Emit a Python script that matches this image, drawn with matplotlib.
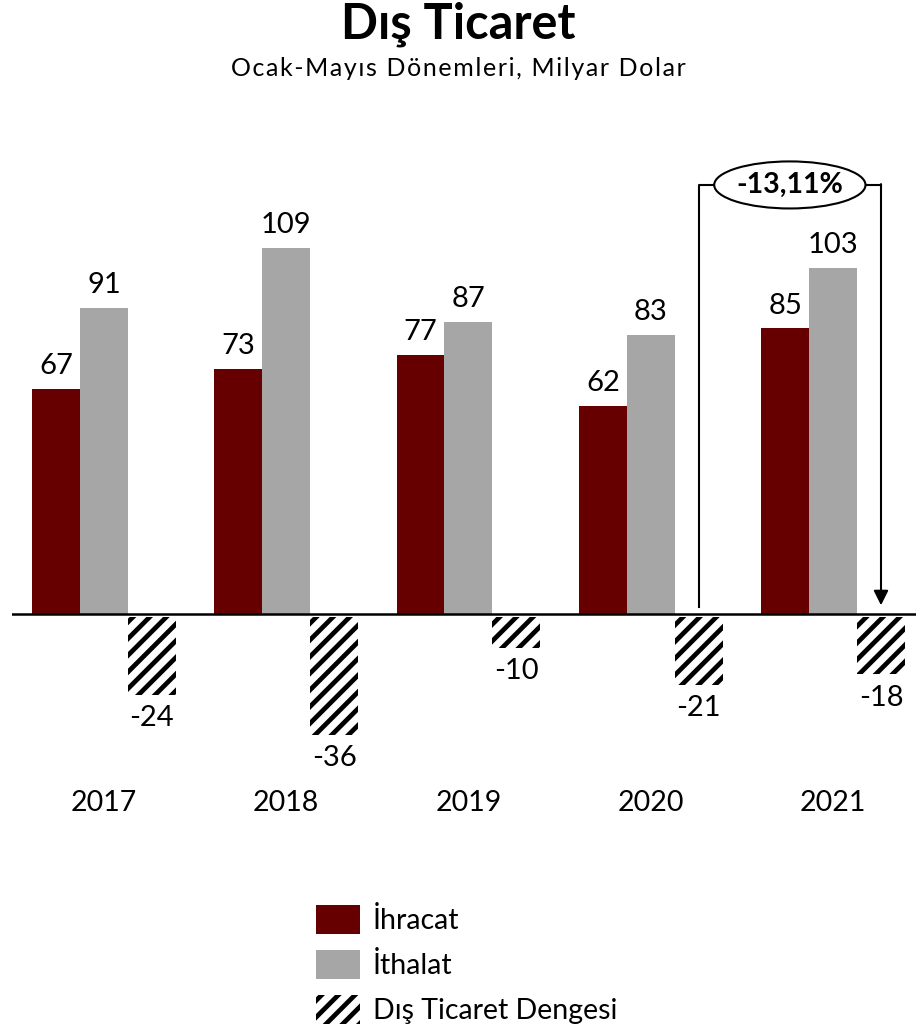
import numpy as np
import matplotlib; matplotlib.use("Agg")
import matplotlib.pyplot as plt
from matplotlib.patches import Ellipse

years = ["2017", "2018", "2019", "2020", "2021"]
ihracat = [67, 73, 77, 62, 85]
ithalat = [91, 109, 87, 83, 103]
denge = [-24, -36, -10, -21, -18]
degisim = "-13,11%"

C_EXP = "#660000"
C_IMP = "#A6A6A6"

plt.rcParams["font.family"] = ["Lato", "DejaVu Sans"]
plt.rcParams["hatch.linewidth"] = 3.4

W, H = 916, 1028
fig = plt.figure(figsize=(W / 100, H / 100), dpi=100)
ax = fig.add_axes([12 / W, 1 - 780 / H, 904 / W, 630 / H])

x = np.arange(len(years))
bw = 0.263
ax.bar(x - bw, ihracat, bw, color=C_EXP, label="İhracat")
ax.bar(x, ithalat, bw, color=C_IMP, label="İthalat")
ax.bar(x + bw, np.array(denge) + 1, bw, bottom=-1, facecolor="white", edgecolor="black",
       lw=0, hatch="//", label="Dış Ticaret Dengesi")

fs = 21
for i in range(len(years)):
    ax.text(x[i] - bw, ihracat[i] + 6.8, str(ihracat[i]), ha="center", va="center", fontsize=fs)
    ax.text(x[i], ithalat[i] + 6.8, str(ithalat[i]), ha="center", va="center", fontsize=fs)
    ax.text(x[i] + bw, denge[i] - 7, str(denge[i]), ha="center", va="center", fontsize=fs)
    ax.text(x[i], -56.3, years[i], ha="center", va="center", fontsize=20.5, clip_on=False)

ax.axhline(0, color="black", lw=1.8)
ax.set_xlim(-0.504, 4.455)
ax.set_ylim(-49.4, 138.1)
ax.axis("off")

# bracket with percentage change
xl, xr = 3 + bw, 4 + bw
ytop = 127.7
xm = (xl + xr) / 2
ew, eh = 0.83, 14
ax.plot([xl, xl, xm - ew / 2], [2, ytop, ytop], color="black", lw=1.5, clip_on=False)
ax.plot([xm + ew / 2, xr], [ytop, ytop], color="black", lw=1.5, clip_on=False)
ax.annotate("", xy=(xr, 2.6), xytext=(xr, ytop + 0.25),
            arrowprops=dict(arrowstyle="-|>", color="black", lw=1.5,
                            mutation_scale=22, shrinkA=0, shrinkB=0))
ax.add_patch(Ellipse((xm, ytop), ew, eh, facecolor="white", edgecolor="black",
                     lw=1.5, clip_on=False))
ax.text(xm, ytop, degisim, ha="center", va="center", fontsize=20.5, fontweight="bold")

fig.text(0.5, 1 - 24 / H, "Dış Ticaret", ha="center", va="center",
         fontsize=35, fontweight="bold")
subtitle = "Ocak-Mayıs Dönemleri, Milyar Dolar"
fig.text(0.5, 1 - 68 / H, "\u200a".join(subtitle), ha="center",
         va="center", fontsize=18, family=["Lato", "DejaVu Sans"])

fig.legend(loc="upper left", bbox_to_anchor=(316 / W, 1 - 905 / H), frameon=False,
           fontsize=20.5, handlelength=1.55, handleheight=1.2, labelspacing=0.55,
           handletextpad=0.45, borderaxespad=0, borderpad=0)

fig.savefig("out.png", dpi=100)
